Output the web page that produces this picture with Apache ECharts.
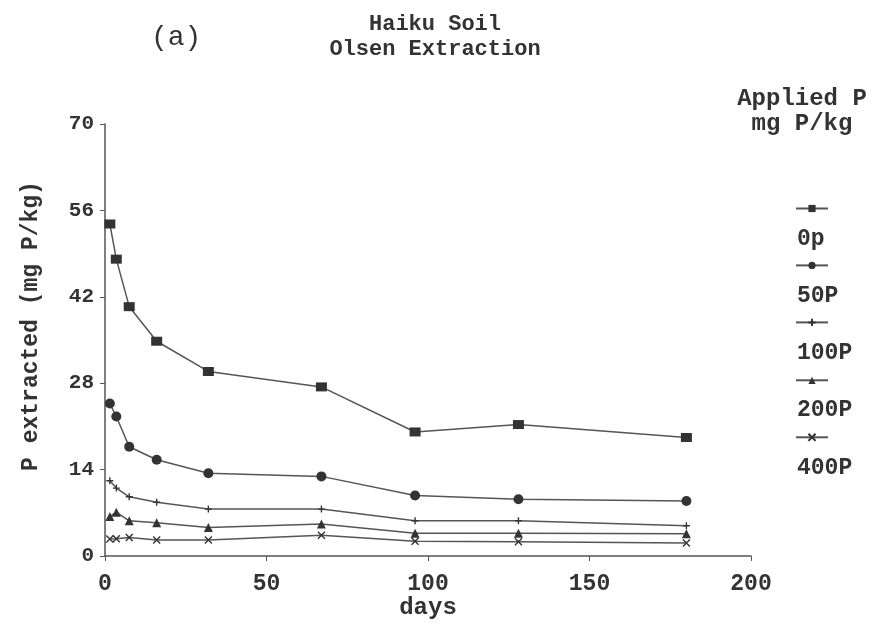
<!DOCTYPE html>
<html>
<head>
<meta charset="utf-8">
<script src="https://cdn.jsdelivr.net/npm/echarts@6/dist/echarts.min.js"></script>
<style>
html,body{margin:0;padding:0;background:#fff;}
#chart{width:874px;height:626px;}
</style>
</head>
<body>
<div id="chart"></div>
<script>
const days = [1.5, 3.5, 7.5, 16, 32, 67, 96, 128, 180];
const seriesNames = ['0p', '50P', '100P', '200P', '400P'];
const p0 = [53.8, 48.1, 40.4, 34.8, 29.9, 27.4, 20.1, 21.3, 19.2];
const p50 = [24.7, 22.6, 17.7, 15.6, 13.4, 12.9, 9.8, 9.2, 8.9];
const p100 = [12.2, 11.0, 9.6, 8.7, 7.6, 7.6, 5.7, 5.7, 4.9];
const p200 = [6.4, 7.1, 5.7, 5.4, 4.6, 5.2, 3.7, 3.7, 3.6];
const p400 = [2.75, 2.8, 3.0, 2.6, 2.6, 3.35, 2.4, 2.3, 2.1];
const xTicks = [0, 50, 100, 150, 200];
const yTicks = [0, 14, 28, 42, 56, 70];

const FONT = '"Liberation Mono", "DejaVu Sans Mono", monospace';
const TXT = '#333';
const LINE = '#555';

function pairs(vals) { return days.map((d, i) => [d, vals[i]]); }

const symbols = {
  '0p': {symbol: 'rect', size: [11, 9]},
  '50P': {symbol: 'circle', size: 10},
  '100P': {symbol: 'path://M0,5L10,5M5,0L5,10', size: 7},
  '200P': {symbol: 'triangle', size: 9},
  '400P': {symbol: 'path://M0,0L10,10M10,0L0,10', size: 7}
};
const values = {'0p': p0, '50P': p50, '100P': p100, '200P': p200, '400P': p400};

const series = seriesNames.map(n => ({
  name: n,
  type: 'line',
  data: pairs(values[n]),
  symbol: symbols[n].symbol,
  symbolSize: symbols[n].size,
  showAllSymbol: true,
  animation: false,
  lineStyle: {color: LINE, width: 1.5},
  itemStyle: {color: '#333', borderColor: '#333', borderWidth: (n === '100P' || n === '400P') ? 1.4 : 0},
  emphasis: {disabled: true}
}));

const chart = echarts.init(document.getElementById('chart'));
chart.setOption({
  backgroundColor: '#fff',
  animation: false,
  title: [
    {text: '(a)', left: 146, top: 19, textStyle: {fontFamily: FONT, fontSize: 28, fontWeight: 'normal', color: TXT}},
    {text: 'Haiku Soil\nOlsen Extraction', left: 430, top: 7, textAlign: 'center',
     textStyle: {fontFamily: FONT, fontSize: 22, fontWeight: 'bold', color: TXT, lineHeight: 25}},
    {text: 'Applied P\nmg P/kg', left: 797, top: 81, textAlign: 'center',
     textStyle: {fontFamily: FONT, fontSize: 24, fontWeight: 'bold', color: TXT, lineHeight: 25}}
  ],
  legend: [
    {
      orient: 'vertical', left: 790, top: 199, itemWidth: 32, itemHeight: 9, itemGap: 48.8,
      data: seriesNames, selectedMode: false, formatter: () => '',
      textStyle: {fontSize: 1}
    },
    {
      orient: 'vertical', left: 787, top: 222, itemWidth: 0, itemHeight: 24, itemGap: 33.2,
      data: seriesNames, icon: 'none', selectedMode: false,
      textStyle: {fontFamily: FONT, fontSize: 23, fontWeight: 'bold', color: TXT, lineHeight: 24}
    }
  ],
  grid: {left: 105, right: 123, top: 124, bottom: 70, containLabel: false, outerBoundsMode: 'none'},
  xAxis: {
    type: 'value', min: xTicks[0], max: xTicks[xTicks.length - 1], interval: 50,
    name: 'days', nameLocation: 'middle', nameGap: 40, nameMoveOverlap: false,
    nameTextStyle: {fontFamily: FONT, fontSize: 24, fontWeight: 'bold', color: TXT},
    axisLine: {show: true, lineStyle: {color: LINE, width: 1.5}},
    axisTick: {show: true, length: 5, lineStyle: {color: LINE}},
    axisLabel: {margin: 17, fontFamily: FONT, fontSize: 23, fontWeight: 'bold', color: TXT},
    splitLine: {show: false}
  },
  yAxis: {
    type: 'value', min: yTicks[0], max: yTicks[yTicks.length - 1], interval: 14,
    name: 'P extracted (mg P/kg)', nameLocation: 'middle', nameGap: 62, nameMoveOverlap: false,
    nameTextStyle: {fontFamily: FONT, fontSize: 23, fontWeight: 'bold', color: TXT, padding: [0, 0, 0, 28]},
    axisLine: {show: true, lineStyle: {color: LINE, width: 1.5}},
    axisTick: {show: true, length: 5, lineStyle: {color: LINE}},
    axisLabel: {margin: 11, fontFamily: FONT, fontSize: 21, fontWeight: 'bold', color: TXT},
    splitLine: {show: false}
  },
  series: series
});
</script>
</body>
</html>
